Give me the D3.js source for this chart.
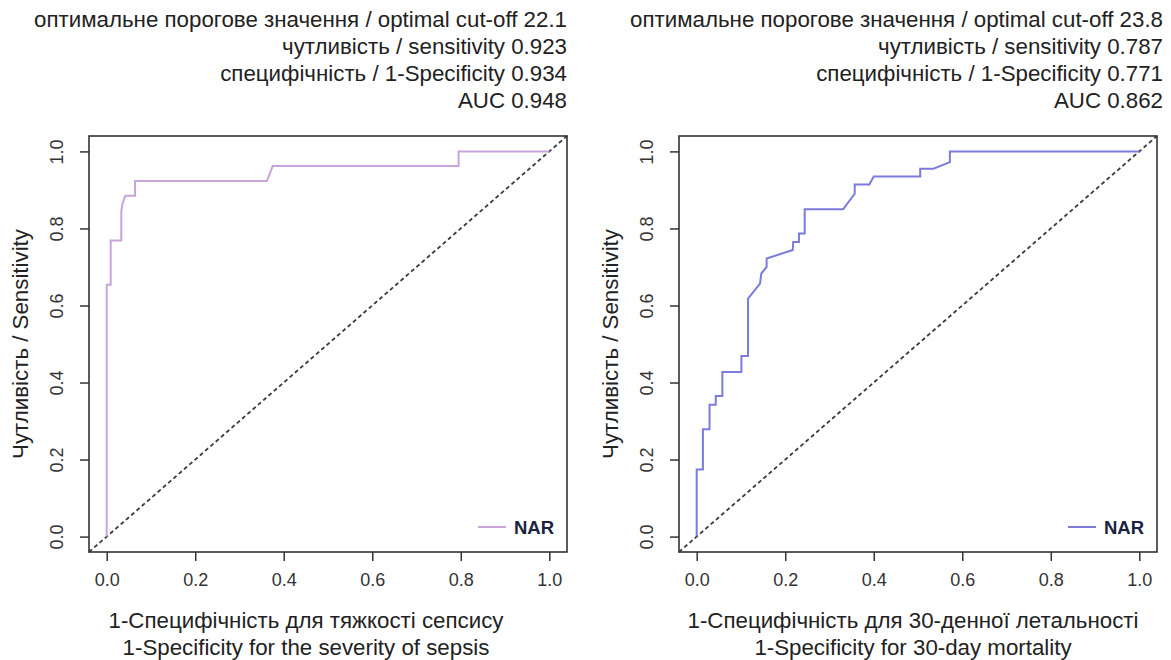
<!DOCTYPE html>
<html>
<head>
<meta charset="utf-8">
<script src="https://cdn.jsdelivr.net/npm/d3@7"></script>
<style>
  body { margin: 0; background: #fff; }
  text { font-family: "Liberation Sans", Arial, sans-serif; }
</style>
</head>
<body>
<svg id="chart" width="1171" height="660"></svg>
<script>
// ---- Data ----
const tickValues = [0, 0.2, 0.4, 0.6, 0.8, 1.0];

// Left panel: severity of sepsis
const leftFpr = [0, 0, 0.009, 0.009, 0.033, 0.033, 0.036, 0.042, 0.064, 0.064, 0.362, 0.375, 0.795, 0.795, 1.0];
const leftTpr = [0, 0.654, 0.654, 0.769, 0.769, 0.846, 0.865, 0.885, 0.885, 0.923, 0.923, 0.962, 0.962, 1.0, 1.0];
const leftHeader = [
  "оптимальне порогове значення / optimal cut-off 22.1",
  "чутливість / sensitivity 0.923 ",
  "специфічність / 1-Specificity 0.934",
  "AUC 0.948"
];
const leftXLabel = ["1-Специфічність для тяжкості сепсису", "1-Specificity for the severity of sepsis"];

// Right panel: 30-day mortality
const rightFpr = [0, 0, 0.014, 0.014, 0.029, 0.029, 0.043, 0.043, 0.058, 0.058, 0.101, 0.101, 0.116, 0.116, 0.143, 0.146, 0.158, 0.158, 0.217, 0.218, 0.231, 0.231, 0.244, 0.244, 0.331, 0.357, 0.357, 0.390, 0.400, 0.505, 0.505, 0.535, 0.572, 0.572, 1.0];
const rightTpr = [0, 0.174, 0.174, 0.279, 0.279, 0.342, 0.342, 0.365, 0.365, 0.427, 0.427, 0.469, 0.469, 0.618, 0.657, 0.683, 0.700, 0.722, 0.744, 0.765, 0.765, 0.787, 0.787, 0.850, 0.850, 0.890, 0.914, 0.914, 0.935, 0.935, 0.955, 0.955, 0.972, 1.0, 1.0];
const rightHeader = [
  "оптимальне порогове значення / optimal cut-off 23.8",
  "чутливість / sensitivity 0.787",
  "специфічність / 1-Specificity 0.771",
  "AUC 0.862"
];
const rightXLabel = ["1-Специфічність для 30-денної летальності", "1-Specificity for 30-day mortality"];

const yLabel = "Чутливість / Sensitivity";
const legendName = "NAR";

// ---- Drawing ----
const svg = d3.select("#chart");
const BIG = 22.3;
const TICK = 18;

function panel(cfg) {
  const x = d3.scaleLinear().domain([-0.04, 1.04]).range([cfg.left, cfg.right]);
  const y = d3.scaleLinear().domain([-0.04, 1.04]).range([552, 136]);
  const g = svg.append("g");

  // header texts
  cfg.header.forEach((t, i) => {
    g.append("text").attr("x", cfg.headerX).attr("y", 27 + i * 27)
      .attr("text-anchor", "end").attr("font-size", BIG).attr("fill", "#222").text(t);
  });

  // diagonal reference
  g.append("line")
    .attr("x1", x(-0.04)).attr("y1", y(-0.04))
    .attr("x2", x(1.04)).attr("y2", y(1.04))
    .attr("stroke", "#3a3a3a").attr("stroke-width", 1.8).attr("stroke-dasharray", "4,3");

  // ROC curve
  const pts = cfg.fpr.map((v, i) => [v, cfg.tpr[i]]);
  g.append("path").datum(pts)
    .attr("d", d3.line().x(d => x(d[0])).y(d => y(d[1])))
    .attr("fill", "none").attr("stroke", cfg.color).attr("stroke-width", 2);

  // box
  g.append("rect").attr("x", cfg.left).attr("y", 136)
    .attr("width", cfg.right - cfg.left).attr("height", 552 - 136)
    .attr("fill", "none").attr("stroke", "#333").attr("stroke-width", 1.6);

  // x axis
  const xa = g.append("g").attr("transform", "translate(0,552)")
    .call(d3.axisBottom(x).tickValues(tickValues).tickSize(9).tickPadding(12).tickFormat(d3.format(".1f")));
  xa.select(".domain").remove();
  xa.selectAll("line").attr("stroke", "#333").attr("stroke-width", 1.5);
  xa.selectAll("text").attr("font-size", TICK).attr("fill", "#333")
    .attr("font-family", "Liberation Sans, Arial, sans-serif");

  // y axis
  const ya = g.append("g").attr("transform", `translate(${cfg.left},0)`)
    .call(d3.axisLeft(y).tickValues(tickValues).tickSize(9).tickFormat(d3.format(".1f")));
  ya.select(".domain").remove();
  ya.selectAll("line").attr("stroke", "#333").attr("stroke-width", 1.5);
  ya.selectAll("text")
    .attr("x", null).attr("dy", null)
    .attr("text-anchor", "middle")
    .attr("transform", "translate(-26,0) rotate(-90)")
    .attr("font-size", TICK).attr("fill", "#333")
    .attr("font-family", "Liberation Sans, Arial, sans-serif");

  // y label
  g.append("text")
    .attr("transform", `translate(${cfg.left - 61},${y(0.5)}) rotate(-90)`)
    .attr("text-anchor", "middle").attr("font-size", BIG).attr("fill", "#222").text(yLabel);

  // x labels
  cfg.xLabel.forEach((t, i) => {
    g.append("text").attr("x", cfg.xLabelX).attr("y", 628 + i * 27)
      .attr("text-anchor", "middle").attr("font-size", BIG).attr("fill", "#222").text(t);
  });

  // legend
  g.append("line").attr("x1", cfg.right - 89).attr("x2", cfg.right - 61)
    .attr("y1", 527).attr("y2", 527).attr("stroke", cfg.color).attr("stroke-width", 2);
  g.append("text").attr("x", cfg.right - 53).attr("y", 534)
    .attr("font-size", 18.5).attr("font-weight", "bold").attr("fill", "#1a2440").text(legendName);
}

panel({ left: 89, right: 567, header: leftHeader, headerX: 567, fpr: leftFpr, tpr: leftTpr,
        color: "#c9a3dc", xLabel: leftXLabel, xLabelX: 306 });
panel({ left: 679, right: 1157, header: rightHeader, headerX: 1163, fpr: rightFpr, tpr: rightTpr,
        color: "#7b7bdd", xLabel: rightXLabel, xLabelX: 913 });
</script>
</body>
</html>
